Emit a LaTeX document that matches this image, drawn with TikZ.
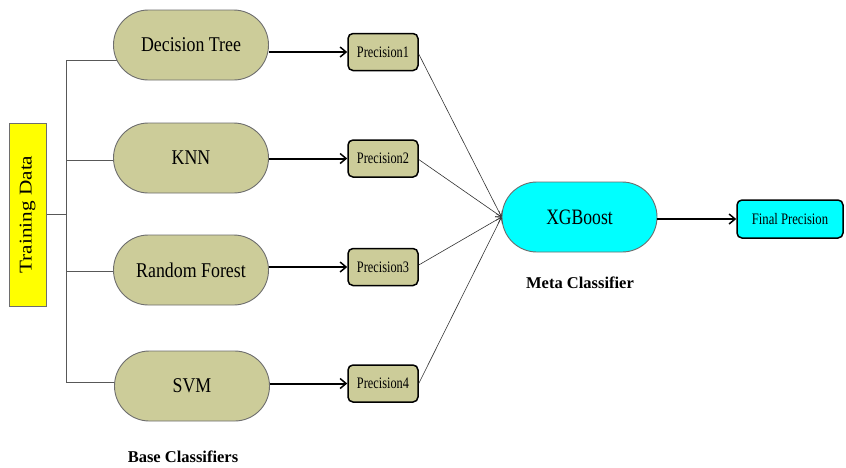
\documentclass[tikz,border=0pt]{standalone}
\usepackage{fontspec}
\setmainfont{Liberation Serif}
\usepackage{graphicx}
\usetikzlibrary{arrows.meta,backgrounds}
\definecolor{olive}{RGB}{204,204,153}
\definecolor{aqua}{RGB}{0,255,255}
\definecolor{lemon}{RGB}{255,255,0}
\definecolor{rim}{RGB}{110,110,110}
% horizontally condensed text: #1 = font size, #2 = x scale, #3 = text
\newcommand{\sqtext}[3]{\scalebox{#2}[1]{\fontsize{#1}{#1}\selectfont #3}}
\tikzset{
  pill/.style={draw=rim, line width=0.9pt, fill=olive, rounded corners=34.9pt,
    minimum width=155pt, minimum height=70pt, inner sep=0pt},
  metapill/.style={pill, fill=aqua},
  score/.style={draw=black, line width=1.5pt, fill=olive, rounded corners=5pt,
    minimum width=70pt, minimum height=37pt, inner sep=0pt},
  finalbox/.style={score, fill=aqua, minimum width=106pt, minimum height=38pt},
  databox/.style={draw=rim, line width=0.9pt, fill=lemon,
    minimum width=37pt, minimum height=183pt, inner sep=0pt},
  tree/.style={draw=rim!80!black, line width=1pt},
  feed/.style={draw=black, line width=2pt, -{Straight Barb[length=6pt,width=10pt,line width=1.5pt]}},
  merge/.style={draw=black!80, line width=0.6pt, -{Straight Barb[length=5pt,width=7pt]}},
  caption/.style={font=\fontsize{16.5}{17}\selectfont\bfseries}
}
\begin{document}
\begin{tikzpicture}[x=1pt,y=-1pt]
\useasboundingbox (0,0) rectangle (846,467);

% input
\node[databox] (td) at (27.5,214.5) {\rotatebox{90}{\sqtext{18}{1.18}{Training Data}}};

% base classifiers
\node[pill] (dt) at (191,45) {\sqtext{21}{0.85}{Decision Tree}};
\node[pill] (knn) at (191,158) {\sqtext{21}{0.85}{KNN}};
\node[pill] (rf) at (191,270) {\sqtext{21}{0.85}{Random Forest}};
\node[pill] (svm) at (192,386) {\sqtext{21}{0.85}{SVM}};

% per-model scores
\node[score] (p1) at (383,52) {\sqtext{16}{0.77}{Precision1}};
\node[score] (p2) at (383,158.5) {\sqtext{16}{0.77}{Precision2}};
\node[score] (p3) at (383,267) {\sqtext{16}{0.77}{Precision3}};
\node[score] (p4) at (383,383.5) {\sqtext{16}{0.77}{Precision4}};

% meta learner and output
\node[metapill] (xg) at (579.5,217) {\sqtext{22}{0.8}{XGBoost}};
\node[finalbox] (fp) at (790,219) {\sqtext{16}{0.79}{Final Precision}};

% captions
\node[caption] (meta) at (580,283) {Meta Classifier};
\node[caption] (base) at (183,457) {Base Classifiers};

% fan-out from the training data
\coordinate (bus) at (66,214);
\coordinate (b1) at (66,60);
\coordinate (b2) at (66,160);
\coordinate (b3) at (66,271);
\coordinate (b4) at (66,382);
\begin{scope}[on background layer]
  \fill[white] (0,0) rectangle (846,467);
  \draw[tree] (td.east |- bus) -- (bus);
  \draw[tree] (b1) -- (b4);
  \draw[tree] (b1) -- (b1 -| dt.center);
  \draw[tree] (b2) -- (b2 -| knn.center);
  \draw[tree] (b3) -- (b3 -| rf.center);
  \draw[tree] (b4) -- (b4 -| svm.center);
\end{scope}

% classifier outputs
\draw[feed] (p1.west -| dt.east) -- (p1.west);
\draw[feed] (p2.west -| knn.east) -- (p2.west);
\draw[feed] (p3.west -| rf.east) -- (p3.west);
\draw[feed] (p4.west -| svm.east) -- (p4.west);

% stacking into the meta classifier
\draw[merge] ([yshift=-2pt]p1.east) -- (xg.west);
\draw[merge] ([yshift=-1pt]p2.east) -- (xg.west);
\draw[merge] ([yshift=2pt]p3.east) -- (xg.west);
\draw[merge] (p4.east) -- (xg.west);

\draw[feed] (xg.east |- fp.west) -- (fp.west);
\end{tikzpicture}
\end{document}
